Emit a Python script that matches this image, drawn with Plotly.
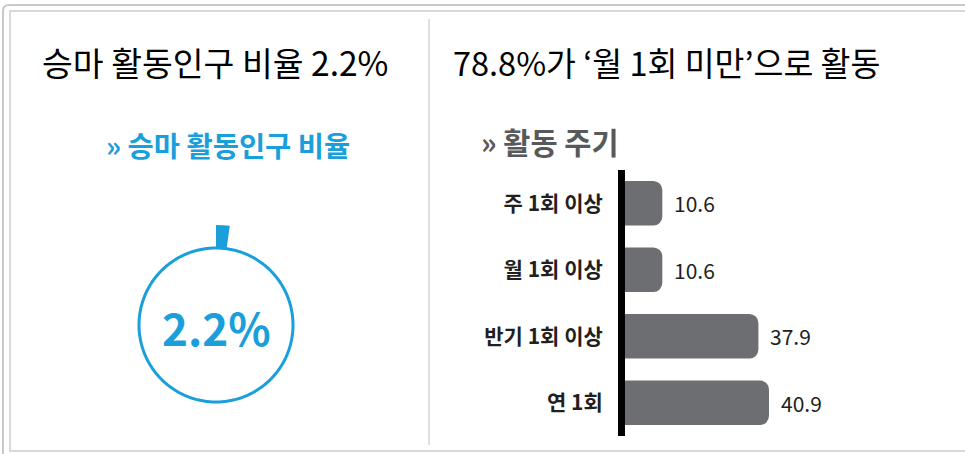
import numpy as np
import plotly.graph_objects as go

# ---- data ----
left_title = "승마 활동인구 비율 2.2%"
right_title = "78.8%가 ‘월 1회 미만’으로 활동"
left_sub = "» 승마 활동인구 비율"
right_sub = "» 활동 주기"
ratio_value = 2.2  # percent
categories = ["주 1회 이상", "월 1회 이상", "반기 1회 이상", "연 1회"]
values = [10.6, 10.6, 37.9, 40.9]

W, H = 965, 454
BLUE = "#1a9fdb"
GRAY_BAR = "#6d6e71"
FONT = "Noto Sans CJK KR"


def px(x):
    return x / W


def py(y):
    return 1 - y / H


fig = go.Figure()

# ---- gauge (polar) ----
ring_r = 0.70
wedge_len = 0.22
theta_ring = np.linspace(0, 360, 361)
fig.add_trace(go.Scatterpolar(
    r=[ring_r] * len(theta_ring), theta=theta_ring, mode="lines",
    line=dict(color=BLUE, width=3), hoverinfo="skip", showlegend=False,
    subplot="polar"))
fig.add_trace(go.Barpolar(
    r=[wedge_len], base=[ring_r - 0.01], theta=[ratio_value * 3.6 / 2],
    width=[ratio_value * 3.6], marker=dict(color=BLUE, line=dict(width=0)),
    showlegend=False, subplot="polar"))

cx, cy, half = 216, 325, 110
fig.update_layout(polar=dict(
    domain=dict(x=[px(cx - half), px(cx + half)], y=[py(cy + half), py(cy - half)]),
    bgcolor="rgba(0,0,0,0)",
    radialaxis=dict(range=[0, 1], visible=False, showgrid=False),
    angularaxis=dict(direction="clockwise", rotation=90, visible=False,
                     showgrid=False, showline=False, ticks=""),
))

# ---- bar chart ----
fig.add_trace(go.Bar(
    x=values, y=categories, orientation="h",
    marker=dict(color=GRAY_BAR, line=dict(width=0)),
    width=0.67, showlegend=False, hoverinfo="skip",
    xaxis="x", yaxis="y"))

fig.update_layout(
    xaxis=dict(domain=[px(625), px(900)], range=[0, 275 / 3.52],
               visible=False, fixedrange=True),
    yaxis=dict(domain=[py(436), py(170)], type="category",
               autorange="reversed", showline=True, linecolor="black",
               linewidth=7, ticks="outside", ticklen=11,
               tickcolor="rgba(0,0,0,0)", showgrid=False, zeroline=False,
               tickfont=dict(family=FONT, size=21, color="#231f20", weight="bold")),
    barcornerradius=9,
)

annotations = []
for c, v in zip(categories, values):
    annotations.append(dict(
        x=v, y=c, xref="x", yref="y", text=f"{v:.1f}", showarrow=False,
        xanchor="left", yanchor="middle", xshift=10,
        font=dict(family=FONT, size=21, color="#231f20")))

# titles
annotations += [
    dict(x=px(40), y=py(62), xref="paper", yref="paper", text=left_title,
         showarrow=False, xanchor="left", yanchor="middle",
         font=dict(family=FONT, size=33.5, color="#000")),
    dict(x=px(451), y=py(62), xref="paper", yref="paper", text=right_title,
         showarrow=False, xanchor="left", yanchor="middle",
         font=dict(family=FONT, size=32.5, color="#000")),
    dict(x=px(104), y=py(145), xref="paper", yref="paper", text=left_sub,
         showarrow=False, xanchor="left", yanchor="middle",
         font=dict(family=FONT, size=28.5, color=BLUE, weight="bold")),
    dict(x=px(479), y=py(141), xref="paper", yref="paper", text=right_sub,
         showarrow=False, xanchor="left", yanchor="middle",
         font=dict(family=FONT, size=29.5, color="#58595b", weight="bold")),
    dict(x=px(cx), y=py(cy + 2), xref="paper", yref="paper",
         text=f"{ratio_value}%", showarrow=False, xanchor="center",
         yanchor="middle",
         font=dict(family=FONT, size=44, color=BLUE, weight="bold")),
]

shapes = [
    # outer frame
    dict(type="path", xref="paper", yref="paper",
         path=(f"M {px(3)},{py(470)} L {px(3)},{py(11)} "
               f"Q {px(3)},{py(5)} {px(9)},{py(5)} L {px(990)},{py(5)}"),
         line=dict(color="#c9c9c9", width=2)),
    # inner frame
    dict(type="rect", xref="paper", yref="paper",
         x0=px(10), y0=py(451), x1=px(990), y1=py(11),
         line=dict(color="#d9d9d9", width=2), fillcolor="rgba(0,0,0,0)"),
    # divider
    dict(type="line", xref="paper", yref="paper",
         x0=px(429), y0=py(19), x1=px(429), y1=py(445),
         line=dict(color="#d4d4d4", width=1.5)),
]

fig.update_layout(
    width=W, height=H, margin=dict(l=0, r=0, t=0, b=0),
    paper_bgcolor="white", plot_bgcolor="rgba(0,0,0,0)",
    annotations=annotations, shapes=shapes, showlegend=False,
    font=dict(family=FONT),
)

fig.write_html("out.html", config={"displayModeBar": False},
               post_script="document.body.style.margin='0';document.body.style.overflow='hidden';")
